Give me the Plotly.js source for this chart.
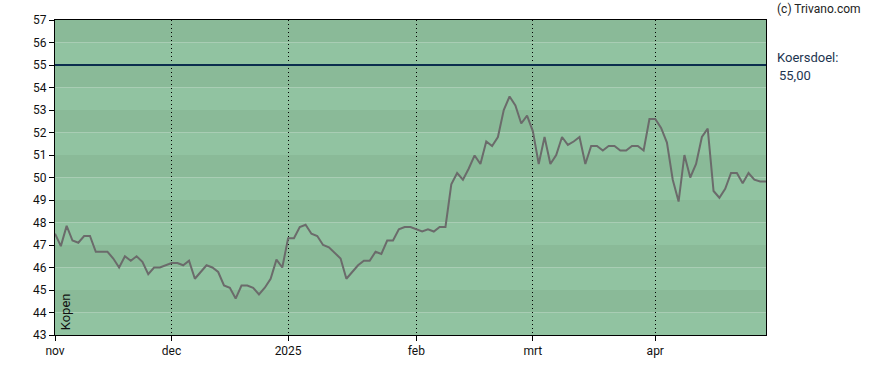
<!DOCTYPE html>
<html>
<head>
<meta charset="utf-8">
<script src="https://cdn.plot.ly/plotly-3.0.1.min.js"></script>
<style>
  html, body { margin: 0; padding: 0; background: #ffffff; }
  #chart { width: 888px; height: 370px; }
</style>
</head>
<body>
<div id="chart"></div>
<script>
// Closing prices, one per trading day
const prices = [
  47.5, 46.95, 47.85, 47.2, 47.1, 47.4, 47.4, 46.7, 46.7, 46.7,
  46.4, 46.0, 46.5, 46.3, 46.5, 46.25, 45.7, 46.0, 46.0, 46.1,
  46.2, 46.2, 46.1, 46.3, 45.5, 45.8, 46.1, 46.0, 45.8, 45.2,
  45.1, 44.62, 45.2, 45.2, 45.1, 44.8, 45.1, 45.5, 46.35, 46.0,
  47.3, 47.3, 47.8, 47.9, 47.5, 47.4, 47.0, 46.9, 46.63, 46.4,
  45.5, 45.8, 46.1, 46.3, 46.3, 46.7, 46.6, 47.2, 47.2, 47.7,
  47.8, 47.8, 47.7, 47.6, 47.7, 47.6, 47.8, 47.8, 49.7, 50.2,
  49.9, 50.4, 50.98, 50.6, 51.6, 51.4, 51.8, 53.0, 53.6, 53.2,
  52.4, 52.75, 52.05, 50.6, 51.8, 50.6, 51.0, 51.8, 51.45, 51.6,
  51.8, 50.6, 51.4, 51.4, 51.2, 51.4, 51.4, 51.2, 51.2, 51.4,
  51.4, 51.2, 52.6, 52.6, 52.2, 51.55, 49.9, 48.93, 51.0, 50.0,
  50.6, 51.8, 52.17, 49.4, 49.1, 49.5, 50.2, 50.2, 49.75, 50.2,
  49.9, 49.82, 49.82
];
const dayIndex = prices.map((_, i) => i);

// Month ticks (trading-day index where each month starts)
const monthTickIdx = [0, 20, 40, 62, 82, 103];
const monthTickText = ['nov', 'dec', '2025', 'feb', 'mrt', 'apr'];

// Y axis ticks
const yTicks = [43, 44, 45, 46, 47, 48, 49, 50, 51, 52, 53, 54, 55, 56, 57];

// Target price (koersdoel)
const target = 55.00;
const targetLabel = '55,00';
const advice = 'Kopen';

const yMin = 43, yMax = 57;

// Alternating horizontal bands
const shapes = [];
for (let v = yMin; v < yMax; v++) {
  shapes.push({
    type: 'rect', xref: 'paper', yref: 'y', layer: 'below',
    x0: 0, x1: 1, y0: v, y1: v + 1,
    fillcolor: ((v - yMin) % 2 === 0) ? '#91c3a1' : '#8aba98',
    line: { width: 0 }
  });
}
// Target line
shapes.push({
  type: 'line', xref: 'paper', yref: 'y',
  x0: 0, x1: 1, y0: target, y1: target,
  line: { color: '#0b2e4e', width: 2 }
});

const trace = {
  x: dayIndex, y: prices, type: 'scatter', mode: 'lines',
  line: { color: '#6b6b6b', width: 2 },
  hoverinfo: 'skip'
};

const layout = {
  width: 888, height: 370,
  margin: { l: 55, r: 122, t: 20, b: 35 },
  paper_bgcolor: '#ffffff',
  plot_bgcolor: 'rgba(0,0,0,0)',
  showlegend: false,
  font: { family: 'Roboto, Arial, sans-serif', size: 12, color: '#111111' },
  xaxis: {
    range: [0, prices.length - 1],
    tickmode: 'array', tickvals: monthTickIdx, ticktext: monthTickText,
    ticks: 'outside', ticklen: 5, tickcolor: '#000000',
    showgrid: true, gridcolor: '#000000', gridwidth: 1, griddash: '1px,3px',
    showline: true, linecolor: '#000000', linewidth: 1, mirror: true,
    zeroline: false, fixedrange: true,
    tickfont: { size: 12, color: '#111111' }
  },
  yaxis: {
    range: [yMin, yMax],
    tickmode: 'array', tickvals: yTicks,
    ticks: 'outside', ticklen: 5, tickcolor: '#000000',
    showgrid: false,
    showline: true, linecolor: '#000000', linewidth: 1, mirror: true,
    zeroline: false, fixedrange: true,
    tickfont: { size: 12, color: '#111111' }
  },
  shapes: shapes,
  annotations: [
    { text: '(c) Trivano.com', xref: 'paper', yref: 'paper', x: 1.012, y: 1.0,
      xanchor: 'left', yanchor: 'bottom', yshift: 2, showarrow: false,
      font: { size: 12, color: '#222222' } },
    { text: 'Koersdoel:', xref: 'paper', yref: 'y', x: 1.012, y: target,
      xanchor: 'left', yanchor: 'middle', yshift: 8, showarrow: false,
      font: { size: 13, color: '#1d3550' } },
    { text: targetLabel, xref: 'paper', yref: 'y', x: 1.016, y: target,
      xanchor: 'left', yanchor: 'middle', yshift: -10, showarrow: false,
      font: { size: 13, color: '#1d3550' } },
    { text: advice, xref: 'paper', yref: 'paper', x: 0.014, y: 0.01,
      xanchor: 'center', yanchor: 'bottom', textangle: -90, showarrow: false,
      font: { size: 13, color: '#111111' } }
  ]
};

Plotly.newPlot('chart', [trace], layout, { staticPlot: true, displayModeBar: false });
</script>
</body>
</html>
